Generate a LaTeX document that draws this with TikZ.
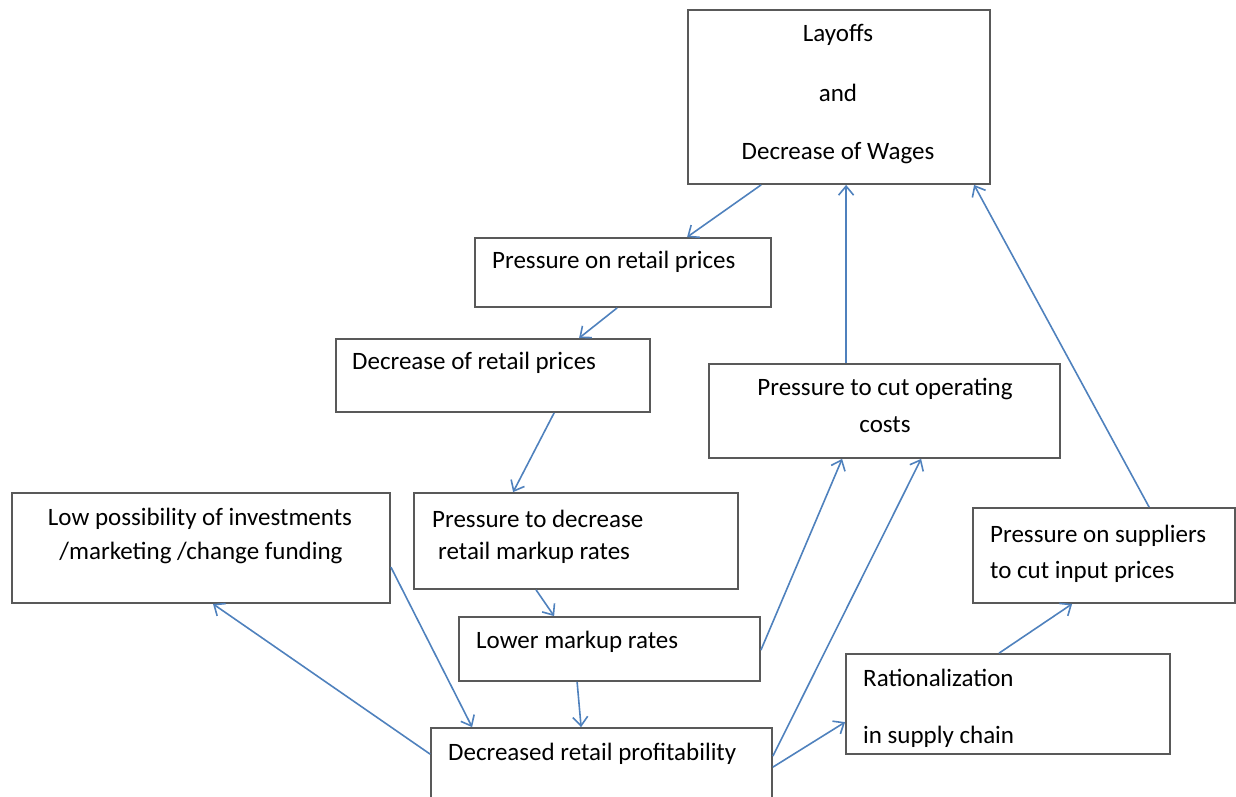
\documentclass[tikz,border=0pt]{standalone}
\usepackage{fontspec}
\setmainfont{Carlito}
\usetikzlibrary{arrows.meta}
\definecolor{arrowblue}{HTML}{4F81BD}
\tikzset{
  box/.style={draw=black!65, line width=1.8pt, fill=white, inner sep=0pt},
  txt/.style={font=\fontsize{25}{29}\selectfont, inner sep=0pt},
  link/.style={draw=arrowblue, line width=1.6pt, -{Straight Barb[length=9pt,width=15pt,line width=1.6pt]}}
}
\begin{document}
\begin{tikzpicture}[x=1pt, y=-1pt]
\useasboundingbox (0,0) rectangle (1236,796);
% boxes
\node[box, minimum width=302pt, minimum height=174pt] (lay) at (839,97) {};
\node[box, minimum width=296pt, minimum height=69pt] (prp) at (623,272.5) {};
\node[box, minimum width=314pt, minimum height=73pt] (drp) at (493,375.5) {};
\node[box, minimum width=351pt, minimum height=94pt] (pco) at (884.5,411) {};
\node[box, minimum width=378pt, minimum height=110pt] (low) at (201,548) {};
\node[box, minimum width=324pt, minimum height=96pt] (pdm) at (576,541) {};
\node[box, minimum width=262pt, minimum height=95pt] (psp) at (1104,555.5) {};
\node[box, minimum width=301pt, minimum height=64pt] (lmr) at (609.5,649) {};
\node[box, minimum width=324pt, minimum height=100pt] (rsc) at (1008,704) {};
\node[box, minimum width=341pt, minimum height=80pt] (dpr) at (601.5,768) {};
% texts
\node[txt] (layA) at (838,35) {Layoffs};
\node[txt] (layB) at (838,93) {and};
\node[txt] (layC) at (838,153) {Decrease of Wages};
\node[txt, anchor=west] (prpA) at (492,262) {Pressure on retail prices};
\node[txt, anchor=west] (drpA) at (352,363) {Decrease of retail prices};
\node[txt] (pcoA) at (885,389) {Pressure to cut operating};
\node[txt] (pcoB) at (885,425) {costs};
\node[txt] (lowA) at (200,519) {Low possibility of investments};
\node[txt] (lowB) at (201,553) {/marketing /change funding};
\node[txt, anchor=west] (pdmA) at (432,519) {Pressure to decrease};
\node[txt, anchor=west] (pdmB) at (438,553) {retail markup rates};
\node[txt, anchor=west] (pspA) at (990,536) {Pressure on suppliers};
\node[txt, anchor=west] (pspB) at (990,572) {to cut input prices};
\node[txt, anchor=west] (lmrA) at (476,642) {Lower markup rates};
\node[txt, anchor=west] (rscA) at (863,678) {Rationalization};
\node[txt, anchor=west] (rscB) at (863,737) {in supply chain};
\node[txt, anchor=west] (dprA) at (448,754) {Decreased retail profitability};
% connectors
\draw[link] ([xshift=74pt]lay.south west) -- ([xshift=213pt]prp.north west);
\draw[link] ([xshift=143pt]prp.south west) -- ([xshift=244pt]drp.north west);
\draw[link] ([xshift=219pt]drp.south west) -- ([xshift=100pt]pdm.north west);
\draw[link] ([xshift=123pt]pdm.south west) -- ([xshift=96pt]lmr.north west);
\draw[link] ([xshift=119pt]lmr.south west) -- ([xshift=151pt]dpr.north west);
\draw[link] ([yshift=-75pt]low.north east) -- ([xshift=42pt]dpr.north west);
\draw[link] ([yshift=-27pt]dpr.north west) -- ([xshift=12pt]low.south);
\draw[link] ([yshift=-34pt]lmr.north east) -- ([xshift=134pt]pco.south west);
\draw[link] ([yshift=-29pt]dpr.north east) -- ([xshift=213pt]pco.south west);
\draw[link] ([yshift=-40pt]dpr.north east) -- ([yshift=-69pt]rsc.north west);
\draw[link] ([xshift=154pt]rsc.north west) -- ([xshift=100pt]psp.south west);
\draw[link] ([xshift=138pt]pco.north west) -- ([xshift=159pt]lay.south west);
\draw[link] ([xshift=177pt]psp.north west) -- ([xshift=287pt]lay.south west);
\end{tikzpicture}
\end{document}
